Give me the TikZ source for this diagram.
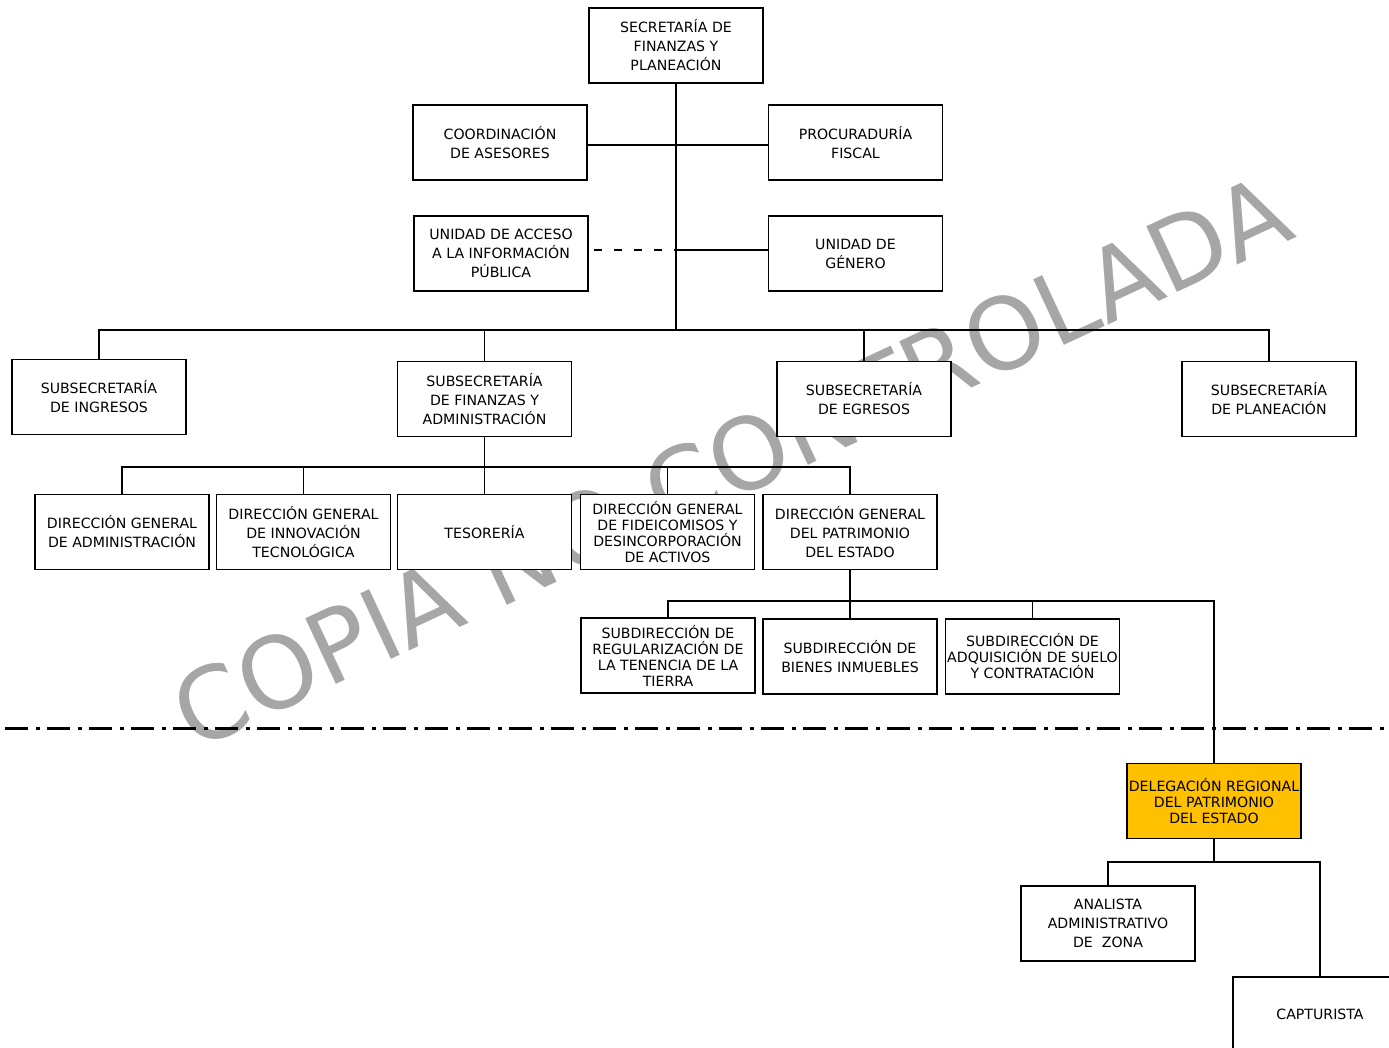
\documentclass[tikz,border=0pt]{standalone}
\usepackage{fontspec}
\setmainfont{DejaVu Sans}
\definecolor{wmgray}{RGB}{166,166,166}
\definecolor{delorange}{RGB}{255,192,0}
\tikzset{
  box/.style={draw=black, line width=1pt, fill=white, minimum width=130.5pt, minimum height=56.25pt,
    inner sep=0pt, align=center, font=\fontsize{10.6}{14.25}\selectfont},
  tightbox/.style={box, font=\fontsize{10.6}{12}\selectfont},
  conn/.style={draw=black, line width=0.8pt},
}
\begin{document}
\begin{tikzpicture}[x=0.75pt,y=-0.75pt]
\clip (0,0) rectangle (1389,1048);
\fill[white] (0,0) rectangle (1389,1048);

% watermark
\node[text=wmgray, rotate=25, inner sep=0pt, font=\fontsize{74.5}{80}\selectfont] (wm) at (731,461) {COPIA NO CONTROLADA};

% nodes
\node[box] (sec) at (676,45.5) {SECRETARÍA DE\\FINANZAS Y\\PLANEACIÓN};
\node[box] (coo) at (500,142.5) {COORDINACIÓN\\DE ASESORES};
\node[box] (pro) at (855.5,142.5) {PROCURADURÍA\\FISCAL};
\node[box] (uac) at (501,253.5) {UNIDAD DE ACCESO\\A LA INFORMACIÓN\\PÚBLICA};
\node[box] (gen) at (855.5,253.5) {UNIDAD DE\\GÉNERO};

\node[box] (ing) at (99,397) {SUBSECRETARÍA\\DE INGRESOS};
\node[box] (fin) at (484.5,399) {SUBSECRETARÍA\\DE FINANZAS Y\\ADMINISTRACIÓN};
\node[box] (egr) at (864,399) {SUBSECRETARÍA\\DE EGRESOS};
\node[box] (pla) at (1269,399) {SUBSECRETARÍA\\DE PLANEACIÓN};

\node[box] (dga) at (122,532) {DIRECCIÓN GENERAL\\DE ADMINISTRACIÓN};
\node[box] (dgi) at (303.5,532) {DIRECCIÓN GENERAL\\DE INNOVACIÓN\\TECNOLÓGICA};
\node[box] (tes) at (484.5,532) {TESORERÍA};
\node[tightbox] (dgf) at (667.5,532) {DIRECCIÓN GENERAL\\DE FIDEICOMISOS Y\\DESINCORPORACIÓN\\DE ACTIVOS};
\node[box] (dgp) at (850,532) {DIRECCIÓN GENERAL\\DEL PATRIMONIO\\DEL ESTADO};

\node[tightbox] (srt) at (668,655.5) {SUBDIRECCIÓN DE\\REGULARIZACIÓN DE\\LA TENENCIA DE LA\\TIERRA};
\node[box] (sbi) at (850,656.5) {SUBDIRECCIÓN DE\\BIENES INMUEBLES};
\node[tightbox] (sas) at (1032.5,656.5) {SUBDIRECCIÓN DE\\ADQUISICIÓN DE SUELO\\Y CONTRATACIÓN};

\node[tightbox, fill=delorange] (del) at (1214,801) {DELEGACIÓN REGIONAL\\DEL PATRIMONIO\\DEL ESTADO};
\node[box] (ana) at (1108,923.5) {ANALISTA\\ADMINISTRATIVO\\DE\ \ ZONA};
\node[box] (cap) at (1320,1014.5) {CAPTURISTA};

% junction coordinates
\coordinate (j0) at (676,145);
\coordinate (j1) at (676,250);
\coordinate (bus1) at (676,330);
\coordinate (bus2) at (484.5,467);
\coordinate (bus3) at (850,601);
\coordinate (bus4) at (1214,862);

% connectors
\draw[conn] (sec.south) -- (bus1);
\draw[conn] (coo.east |- j0) -- (pro.west |- j0);
\draw[conn, dash pattern=on 6pt off 9pt, dash phase=-4pt] (uac.east |- j1) -- (j1);
\draw[conn] (j1) -- (gen.west |- j1);

\draw[conn] (ing.north) |- (bus1) -| (pla.north);
\draw[conn] (fin.north) -- (fin.north |- bus1);
\draw[conn] (egr.north) -- (egr.north |- bus1);

\draw[conn] (fin.south) -- (tes.north);
\draw[conn] (dga.north) |- (bus2) -| (dgp.north);
\draw[conn] (dgi.north) -- (dgi.north |- bus2);
\draw[conn] (dgf.north) -- (dgf.north |- bus2);

\draw[conn] (dgp.south) -- (sbi.north);
\draw[conn] (srt.north) |- (bus3) -| (del.north);
\draw[conn] (sas.north) -- (sas.north |- bus3);

\draw[conn] (del.south) -- (bus4);
\draw[conn] (ana.north) |- (bus4) -| (cap.north);

% dash-dot separator
\coordinate (sepL) at (5,728);
\coordinate (sepR) at (1389,728);
\draw[black, line width=2.25pt, dash pattern=on 17.25pt off 6pt on 3pt off 5.25pt] (sepL) -- (sepR);
\end{tikzpicture}
\end{document}
